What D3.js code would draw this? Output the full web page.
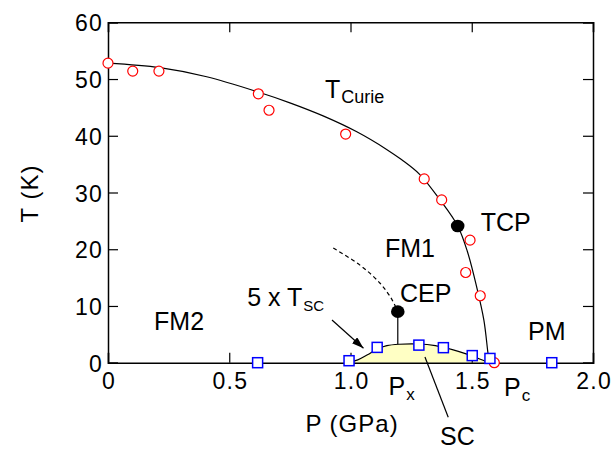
<!DOCTYPE html>
<html>
<head>
<meta charset="utf-8">
<script src="https://cdn.jsdelivr.net/npm/d3@7"></script>
<style>
  html, body { margin: 0; padding: 0; background: #fff; }
  svg { display: block; font-family: "Liberation Sans", Arial, Helvetica, sans-serif; }
</style>
</head>
<body>
<svg id="chart" width="612" height="449"></svg>
<script>
// ---- data ----
const xTicks = [0, 0.5, 1.0, 1.5, 2.0];
const xTickLabels = ["0", "0.5", "1.0", "1.5", "2.0"];
const yTicks = [0, 10, 20, 30, 40, 50, 60];
const yTickLabels = ["0", "10", "20", "30", "40", "50", "60"];

// T_Curie data (P GPa, T K) red open circles
const curieP = [0, 0.102, 0.21, 0.62, 0.664, 0.98, 1.304, 1.376, 1.493, 1.475, 1.535, 1.593];
const curieT = [52.8, 51.4, 51.4, 47.4, 44.5, 40.3, 32.4, 28.7, 21.6, 15.9, 11.8, 0];

// SC data (5 x Tsc) blue open squares
const scP = [0.617, 0.994, 1.11, 1.282, 1.383, 1.502, 1.575, 1.83];
const scT = [0, 0.35, 2.7, 3.1, 2.65, 1.25, 0.75, 0];

// T_Curie guide line
const curveP = [0, 0.214, 0.407, 0.613, 0.75, 0.887, 1.026, 1.149, 1.21, 1.285, 1.369, 1.442, 1.482, 1.52, 1.55, 1.566, 1.572];
const curveT = [52.8, 52.0, 50.4, 47.8, 45.8, 43.5, 40.7, 37.6, 35.8, 33.2, 28.7, 24.1, 19.6, 13.4, 7.5, 2.0, 0];

// first-order boundary (dashed) ending at CEP
const dashP = [0.929, 1.039, 1.122, 1.17, 1.195];
const dashT = [20.2, 17.2, 14.0, 11.2, 9.0];

// SC dome
const domeP = [0.99, 1.03, 1.07, 1.11, 1.15, 1.2, 1.28, 1.35, 1.42, 1.48, 1.53, 1.572];
const domeT = [0, 0.5, 1.4, 2.4, 3.0, 3.25, 3.3, 3.0, 2.3, 1.5, 0.7, 0];

// special points
const tcpP = 1.442, tcpT = 24.1;
const cepP = 1.195, cepT = 9.0, cepLineEndT = 3.3;

// annotations (left / baseline in data coords)
const labels = [
  {text: "T", sub: "Curie", P: 0.895, T: 46.6},
  {text: "TCP", P: 1.537, T: 23.3},
  {text: "FM1", P: 1.142, T: 18.6},
  {text: "CEP", P: 1.204, T: 10.75},
  {text: "FM2", P: 0.19, T: 5.76},
  {text: "PM", P: 1.732, T: 4.0},
  {text: "5 x T", sub: "SC", P: 0.574, T: 10.0, subSize: 15},
  {text: "P", sub: "x", P: 1.157, T: -5.69, subSize: 17},
  {text: "P", sub: "c", P: 1.633, T: -5.87, subSize: 17},
  {text: "SC", P: 1.369, T: -14.5}
];
const arrowFrom = [0.9237, 7.53], arrowTo = [1.0536, 2.54];
const scLeader = [[1.307, 1.0], [1.403, -9.6]];

// ---- layout ----
const svg = d3.select("#chart");
const L = 108, R = 593, Tp = 22.3, B = 362.7;
const x = d3.scaleLinear().domain([0, 2.0]).range([L, R]);
const y = d3.scaleLinear().domain([0, 60]).range([B, Tp]);

// SC dome fill
const domeData = domeP.map((p, i) => [p, domeT[i]]);
svg.append("path")
  .datum(domeData)
  .attr("d", d3.area().x(d => x(d[0])).y0(y(0)).y1(d => y(d[1])).curve(d3.curveCatmullRom))
  .attr("fill", "#ffffc4").attr("stroke", "none");
svg.append("path")
  .datum(domeData)
  .attr("d", d3.line().x(d => x(d[0])).y(d => y(d[1])).curve(d3.curveCatmullRom))
  .attr("fill", "none").attr("stroke", "#000").attr("stroke-width", 1.2);

// axes frame
const tickLen = 10;
const gB = svg.append("g").attr("transform", `translate(0,${B})`)
  .call(d3.axisBottom(x).tickValues(xTicks).tickSize(-tickLen).tickPadding(14)
        .tickFormat((d, i) => xTickLabels[i]));
const gT = svg.append("g").attr("transform", `translate(0,${Tp})`)
  .call(d3.axisTop(x).tickValues(xTicks).tickSize(-tickLen).tickFormat(""));
const gL = svg.append("g").attr("transform", `translate(${L},0)`)
  .call(d3.axisLeft(y).tickValues(yTicks).tickSize(-tickLen).tickPadding(5)
        .tickFormat((d, i) => yTickLabels[i]));
const gR = svg.append("g").attr("transform", `translate(${R},0)`)
  .call(d3.axisRight(y).tickValues(yTicks).tickSize(-tickLen).tickFormat(""));
[gB, gT, gL, gR].forEach(g => {
  g.select(".domain").attr("stroke", "#000").attr("stroke-width", 1.5);
  g.selectAll(".tick line").attr("stroke", "#000").attr("stroke-width", 1.2);
  g.selectAll("text").attr("font-size", 23).attr("fill", "#000").attr("letter-spacing", 1.2)
    .attr("font-family", "'Liberation Sans', Arial, Helvetica, sans-serif");
});
gB.selectAll(".tick text").attr("dy", null).attr("y", 26.6).attr("dx", 0.6);
gL.selectAll(".tick text").attr("dy", null).attr("dominant-baseline", "central").attr("y", 0.5);

// T_Curie curve
svg.append("path")
  .datum(curveP.map((p, i) => [p, curveT[i]]))
  .attr("d", d3.line().x(d => x(d[0])).y(d => y(d[1])).curve(d3.curveCatmullRom))
  .attr("fill", "none").attr("stroke", "#000").attr("stroke-width", 1.2);

// dashed
svg.append("path")
  .datum(dashP.map((p, i) => [p, dashT[i]]))
  .attr("d", d3.line().x(d => x(d[0])).y(d => y(d[1])).curve(d3.curveCatmullRom))
  .attr("fill", "none").attr("stroke", "#000").attr("stroke-width", 1.2)
  .attr("stroke-dasharray", "4,3");

// CEP vertical line
svg.append("line")
  .attr("x1", x(cepP)).attr("x2", x(cepP)).attr("y1", y(cepT)).attr("y2", y(cepLineEndT))
  .attr("stroke", "#000").attr("stroke-width", 1.2);

// SC leader line
svg.append("line")
  .attr("x1", x(scLeader[0][0])).attr("y1", y(scLeader[0][1]))
  .attr("x2", x(scLeader[1][0])).attr("y2", y(scLeader[1][1]))
  .attr("stroke", "#000").attr("stroke-width", 1.2);

// arrow
svg.append("defs").append("marker")
  .attr("id", "ah").attr("viewBox", "0 0 12 8").attr("refX", 12).attr("refY", 4)
  .attr("markerWidth", 12).attr("markerHeight", 8).attr("markerUnits", "userSpaceOnUse")
  .attr("orient", "auto")
  .append("path").attr("d", "M0,0 L12,4 L0,8 Z").attr("fill", "#000");
svg.append("line")
  .attr("x1", x(arrowFrom[0])).attr("y1", y(arrowFrom[1]))
  .attr("x2", x(arrowTo[0])).attr("y2", y(arrowTo[1]))
  .attr("stroke", "#000").attr("stroke-width", 1.2).attr("marker-end", "url(#ah)");

// red circles
svg.append("g").selectAll("circle")
  .data(curieP.map((p, i) => [p, curieT[i]]))
  .join("circle")
  .attr("cx", d => x(d[0])).attr("cy", d => y(d[1])).attr("r", 5)
  .attr("fill", "#fff").attr("stroke", "#ff0000").attr("stroke-width", 1.2);

// blue squares
const sq = 10;
svg.append("g").selectAll("rect")
  .data(scP.map((p, i) => [p, scT[i]]))
  .join("rect")
  .attr("x", d => x(d[0]) - sq / 2).attr("y", d => y(d[1]) - sq / 2)
  .attr("width", sq).attr("height", sq)
  .attr("fill", "#fff").attr("stroke", "#0000ff").attr("stroke-width", 1.5);

// TCP & CEP
svg.append("ellipse").attr("cx", x(tcpP)).attr("cy", y(tcpT)).attr("rx", 6.8).attr("ry", 6.3).attr("fill", "#000");
svg.append("ellipse").attr("cx", x(cepP)).attr("cy", y(cepT)).attr("rx", 6.8).attr("ry", 6.3).attr("fill", "#000");

// annotations
labels.forEach(l => {
  const t = svg.append("text")
    .attr("x", x(l.P)).attr("y", y(l.T))
    .attr("font-size", 25).attr("fill", "#000");
  t.append("tspan").text(l.text);
  if (l.sub) {
    t.append("tspan").attr("font-size", l.subSize || 18).attr("dy", 5).attr("dx", 1).text(l.sub);
  }
});

// axis titles
svg.append("text").attr("x", 352).attr("y", 431.7).attr("text-anchor", "middle")
  .attr("font-size", 24).attr("letter-spacing", 1).attr("fill", "#000").text("P (GPa)");
svg.append("text").attr("transform", "translate(38,193.5) rotate(-90)").attr("text-anchor", "middle")
  .attr("font-size", 24).attr("letter-spacing", 1).attr("fill", "#000").text("T (K)");
</script>
</body>
</html>
